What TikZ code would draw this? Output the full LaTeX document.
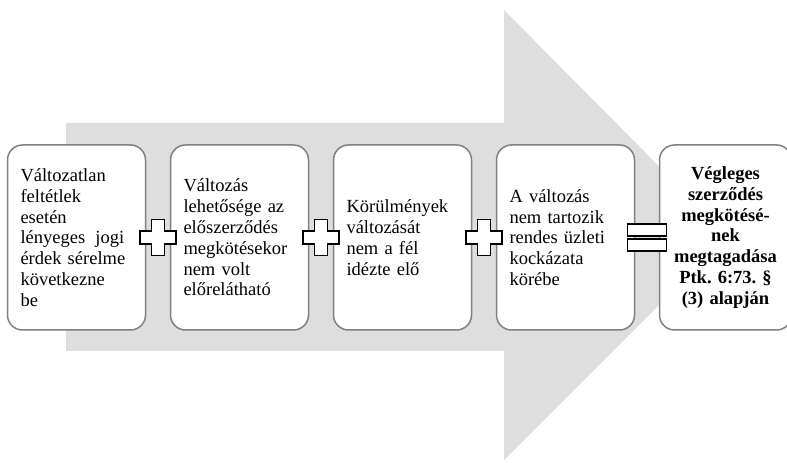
\documentclass[tikz,border=0pt]{standalone}
\usepackage{fontspec}
\setmainfont{Liberation Serif}
\usetikzlibrary{positioning, calc}
\definecolor{agray} {RGB}{222,222,222}
\definecolor{bgray} {RGB}{128,128,128}
\frenchspacing

\tikzset{
  stepbox/.style={draw=bgray, line width=1.5pt, fill=white,
                  rounded corners=15pt, minimum height=185pt,
                  text width=112pt, inner xsep=13pt, align=left,
                  font=\fontsize{18.5}{20.8}\selectfont},
  resultbox/.style={stepbox, text width=116pt, inner xsep=8pt,
                    align=center, font=\fontsize{18.5}{20.8}\selectfont\bfseries},
  plussign/.pic={
    \draw[line width=1.5pt, fill=white]
      (-6.5,18) -- (6.5,18) -- (6.5,6.5) -- (18,6.5) -- (18,-6.5)
      -- (6.5,-6.5) -- (6.5,-18) -- (-6.5,-18) -- (-6.5,-6.5)
      -- (-18,-6.5) -- (-18,6.5) -- (-6.5,6.5) -- cycle;
  },
  equalsign/.pic={
    \draw[line width=1.5pt, fill=white] (-19.5,1.5) rectangle (19.5,13.5);
    \draw[line width=1.5pt, fill=white] (-19.5,-1.5) rectangle (19.5,-13.5);
  }
}

\begin{document}
\begin{tikzpicture}[x=1pt, y=1pt]
  \useasboundingbox (0,0) rectangle (787,463);

  % big background arrow
  \fill[agray] (66,340) -- (504,340) -- (504,453) -- (728,227)
    -- (504,3) -- (504,112) -- (66,112) -- cycle;

  \node[stepbox] (b1) at (76.5,225.5)
    {Változatlan\\feltétlek\\esetén\\lényeges\hspace{0.55em}jogi\\érdek sérelme\\következne\\be};
  \node[stepbox, right=23.5pt of b1] (b2)
    {Változás\\lehetősége az\\előszerződés\\megkötésekor\\nem volt\\előrelátható};
  \node[stepbox, right=23.5pt of b2] (b3)
    {Körülmények\\változását\\nem a fél\\idézte elő};
  \node[stepbox, right=23.5pt of b3] (b4)
    {A változás\\nem tartozik\\rendes üzleti\\kockázata\\körébe};
  \node[resultbox, right=23.5pt of b4] (b5)
    {Végleges\\szerződés\\megkötésé-\\nek\\megtagadása\\Ptk. 6:73. §\\(3) alapján};

  \pic at ($(b1.east)!0.5!(b2.west)$) {plussign};
  \pic at ($(b2.east)!0.5!(b3.west)$) {plussign};
  \pic at ($(b3.east)!0.5!(b4.west)$) {plussign};
  \pic at ($(b4.east)!0.5!(b5.west)$) {equalsign};
\end{tikzpicture}
\end{document}
